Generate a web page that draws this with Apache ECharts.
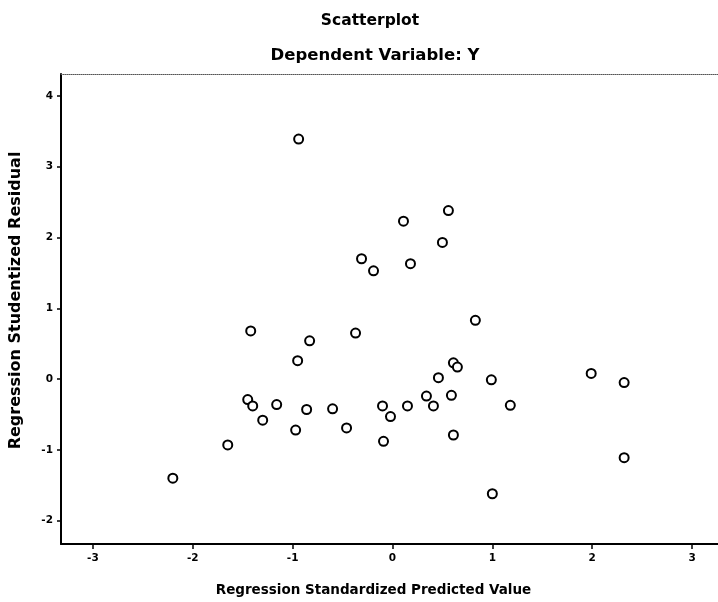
<!DOCTYPE html>
<html>
<head>
<meta charset="utf-8">
<script src="https://cdn.jsdelivr.net/npm/echarts@6/dist/echarts.min.js"></script>
<style>html,body{margin:0;padding:0;background:#fff}#c{width:718px;height:602px}</style>
</head>
<body>
<div id="c"></div>
<script>
const titleText = "Scatterplot";
const subtitleText = "Dependent Variable: Y";
const xName = "Regression Standardized Predicted Value";
const yName = "Regression Studentized Residual";
const xTicks = [-3, -2, -1, 0, 1, 2, 3];
const yTicks = [-2, -1, 0, 1, 2, 3, 4];
const predicted = [-0.94, 0.11, 0.56, 0.50, -0.31, -0.19, 0.18, 0.83, -1.42, -0.83, -0.37, -0.95, 0.61, 0.65, 0.46, 0.99, -1.45, -1.40, -1.16, -0.86, -0.60, -1.30, -0.97, -0.46, -0.10, -0.02, 0.15, 0.34, 0.41, 0.59, 0.61, -0.09, -1.65, -2.20, 1.18, 1.99, 2.32, 2.32, 1.00];
const residual = [3.39, 2.23, 2.38, 1.93, 1.70, 1.53, 1.63, 0.83, 0.68, 0.54, 0.65, 0.26, 0.23, 0.17, 0.02, -0.01, -0.29, -0.38, -0.36, -0.43, -0.42, -0.58, -0.72, -0.69, -0.38, -0.53, -0.38, -0.24, -0.38, -0.23, -0.79, -0.88, -0.93, -1.40, -0.37, 0.08, -0.05, -1.11, -1.62];

const pts = predicted.map((x, i) => [x, residual[i]]);
const font = "'DejaVu Sans', 'Liberation Sans', sans-serif";
const chart = echarts.init(document.getElementById('c'), null, {renderer: 'canvas'});
chart.setOption({
  backgroundColor: '#fff',
  animation: false,
  title: [
    {text: titleText, left: 365, top: 8, textAlign: 'center', textStyle: {fontFamily: font, fontWeight: 'bold', fontSize: 15.5, color: '#000'}},
    {text: subtitleText, left: 370, top: 42, textAlign: 'center', textStyle: {fontFamily: font, fontWeight: 'bold', fontSize: 16.5, color: '#000'}}
  ],
  grid: {left: 60, right: 0, top: 74, bottom: 55},
  xAxis: [{
    type: 'value', min: -3.32, max: 3.26, position: 'bottom',
    name: xName, nameLocation: 'middle', nameGap: 39,
    nameTextStyle: {fontFamily: font, fontWeight: 'bold', fontSize: 13.5, color: '#000', padding: [0, 32, 0, 0]},
    axisLine: {onZero: false, lineStyle: {color: '#000', width: 2}},
    axisTick: {show: true, length: 5, customValues: xTicks, lineStyle: {color: '#000', width: 1.5}},
    axisLabel: {customValues: xTicks, margin: 9, fontFamily: font, fontWeight: 'bold', fontSize: 10.5, color: '#000'},
    splitLine: {show: false}
  }, {
    type: 'value', min: -3.32, max: 3.26, position: 'top',
    axisLine: {onZero: false, lineStyle: {color: '#555', width: 1, type: 'dotted'}},
    axisTick: {show: false}, axisLabel: {show: false}, splitLine: {show: false}
  }],
  yAxis: {
    type: 'value', min: -2.33, max: 4.31,
    name: yName, nameLocation: 'middle', nameGap: 37, nameRotate: 90,
    nameTextStyle: {fontFamily: font, fontWeight: 'bold', fontSize: 16, color: '#000', padding: [0, 0, 0, 17]},
    axisLine: {show: true, onZero: false, lineStyle: {color: '#000', width: 2}},
    axisTick: {show: true, length: 4, customValues: yTicks, lineStyle: {color: '#000', width: 1.5}},
    axisLabel: {customValues: yTicks, margin: 8, fontFamily: font, fontWeight: 'bold', fontSize: 10.5, color: '#000'},
    splitLine: {show: false}
  },
  series: [{
    type: 'scatter', xAxisIndex: 0, data: pts,
    symbol: 'circle', symbolSize: 9,
    itemStyle: {color: '#fff', borderColor: '#000', borderWidth: 2, opacity: 1}
  }]
});
</script>
</body>
</html>
